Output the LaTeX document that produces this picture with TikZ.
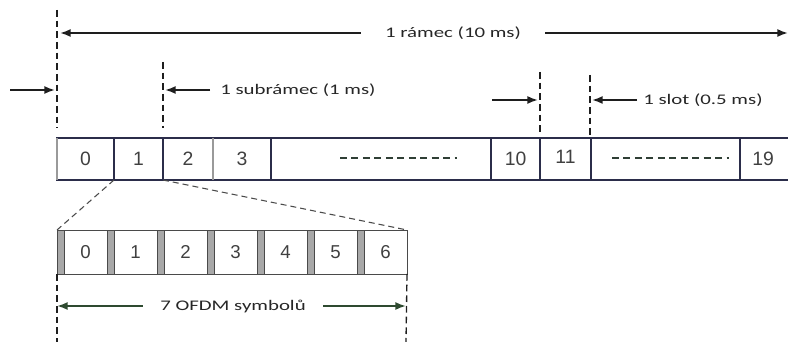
\documentclass[tikz,border=0pt]{standalone}
\usepackage{graphicx}
\usepackage{fontspec}
\setmainfont{Liberation Sans}
\newfontfamily\lblfont{Carlito}
\usetikzlibrary{arrows.meta}
\definecolor{framec}{HTML}{2B2D4A}
\definecolor{greyedge}{HTML}{9A9A9A}
\definecolor{txtc}{HTML}{262626}
\definecolor{numc}{HTML}{404040}
\definecolor{arrc}{HTML}{1E1E1E}
\definecolor{greenarr}{HTML}{2E4A30}
\definecolor{cpfill}{HTML}{A8A8A8}
\definecolor{dotc}{HTML}{2F3F35}
\definecolor{symc}{HTML}{4A4A4A}
\newcommand\lblwide[1]{\scalebox{1.42}[1]{#1}}
\begin{document}
\begin{tikzpicture}[x=0.75pt,y=-0.75pt,
  cell/.style={draw=framec,line width=0.9pt,minimum height=31.5pt,inner sep=0pt,outer sep=0pt,anchor=west,font=\fontsize{14.5}{16}\selectfont,text=numc},
  cpbox/.style={draw=symc,fill=cpfill,line width=0.7pt,minimum height=33pt,minimum width=5.25pt,inner sep=0pt,outer sep=0pt,anchor=west},
  symbox/.style={draw=symc,line width=0.7pt,minimum height=33pt,minimum width=32.25pt,inner sep=0pt,outer sep=0pt,anchor=west,font=\fontsize{14}{16}\selectfont,text=numc},
  lbl/.style={font=\lblfont\fontsize{11}{13}\selectfont,text=txtc,inner ysep=0pt},
  arr/.style={-{Latex[length=8pt,width=6pt]},line width=1.3pt,draw=arrc},
  garr/.style={-{Latex[length=8pt,width=6pt]},line width=1.3pt,draw=greenarr},
  marker/.style={draw=arrc,line width=1pt,dash pattern=on 5pt off 3pt},
  conn/.style={draw=symc,line width=0.8pt,dash pattern=on 4.5pt off 3pt},
  dotline/.style={draw=dotc,line width=1pt,dash pattern=on 5.2pt off 3.4pt}]
\useasboundingbox (0,0) rectangle (788,342);

% frame cells
\node[cell,minimum width=42.75pt] (c0) at (57,159) {0};
\node[cell,minimum width=36.75pt] (c1) at (114,159) {1};
\node[cell,minimum width=37.5pt] (c2) at (163,159) {2};
\node[cell,minimum width=43.5pt] (c3) at (213,159) {3};
\node[cell,minimum width=165pt] (cd1) at (271,159) {};
\node[cell,minimum width=36.75pt] (c10) at (491,159) {10};
\node[cell,minimum width=38.25pt] (c11) at (540,159) {\raisebox{3pt}{11}\hspace{3pt}};
\node[cell,minimum width=111.75pt] (cd2) at (591,159) {};
\node[cell,draw=none,anchor=center] (c19) at (763,159) {19};
\coordinate (fendt) at (788,138);
\coordinate (fendb) at (788,180);
\draw[framec,line width=0.9pt] (cd2.north east) -- (fendt);
\draw[framec,line width=0.9pt] (cd2.south east) -- (fendb);
\draw[greyedge,line width=0.9pt] (c0.north west) -- (c0.south west);
\draw[greyedge,line width=0.9pt] (c3.north west) -- (c3.south west);

% dashes in wide cells
\coordinate (d1a) at (340,158); \coordinate (d1b) at (457,158);
\coordinate (d2a) at (612,158); \coordinate (d2b) at (729,158);
\draw[dotline] (d1a) -- (d1b);
\draw[dotline] (d2a) -- (d2b);

% OFDM symbols
\foreach \i in {0,...,6} {
  \node[cpbox] (cp\i) at ({57+50*\i},252) {};
  \node[symbox] (s\i) at ({64+50*\i},252) {\i};
}

% zoom connectors
\draw[conn] (c1.south west) -- (cp0.north west);
\draw[conn] (c1.south east) -- (s6.north east);

% dashed markers
\coordinate (m0t) at (57,10);  \coordinate (m0b) at (57,128);
\coordinate (m1t) at (163,62); \coordinate (m1b) at (163,128);
\coordinate (m2t) at (540,72); \coordinate (m2b) at (540,135);
\coordinate (m3t) at (590,75); \coordinate (m3b) at (590,135);
\draw[marker] (m0t) -- (m0b);
\draw[marker] (m1t) -- (m1b);
\draw[marker] (m2t) -- (m2b);
\draw[marker] (m3t) -- (m3b);
\coordinate (l0b) at (57,342);
\coordinate (l1b) at (406,342);
\draw[marker] (cp0.south west) -- (l0b);
\draw[marker] (s6.south east) -- (l1b);

% 1 ramec
\node[lbl,inner xsep=18pt] (frame) at (453,33) {\lblwide{1 rámec (10 ms)}};
\coordinate (fL) at (60,33);
\coordinate (fR) at (788,33);
\draw[arr] (frame) -- (fL);
\draw[arr] (frame) -- (fR);

% 1 subramec
\coordinate (la0) at (10,90);
\coordinate (la1) at (55,90);
\draw[arr] (la0) -- (la1);
\node[lbl,anchor=west,inner xsep=7.5pt] (sub) at (210,90) {\lblwide{1 subrámec (1 ms)}};
\coordinate (subtip) at (165,90);
\draw[arr] (sub.west) -- (subtip);

% 1 slot
\coordinate (sa0) at (492,100);
\coordinate (sa1) at (538,100);
\draw[arr] (sa0) -- (sa1);
\node[lbl,anchor=west,inner xsep=4.5pt] (slot) at (637,100) {\lblwide{1 slot (0.5 ms)}};
\coordinate (slottip) at (592,100);
\draw[arr] (slot.west) -- (slottip);

% 7 OFDM symbolu
\node[lbl,inner xsep=13pt] (ofdm) at (233,306) {\lblwide{7 OFDM symbolů}};
\coordinate (oL) at (57,306);
\coordinate (oR) at (406,306);
\draw[garr] (ofdm) -- (oL);
\draw[garr] (ofdm) -- (oR);
\end{tikzpicture}
\end{document}
